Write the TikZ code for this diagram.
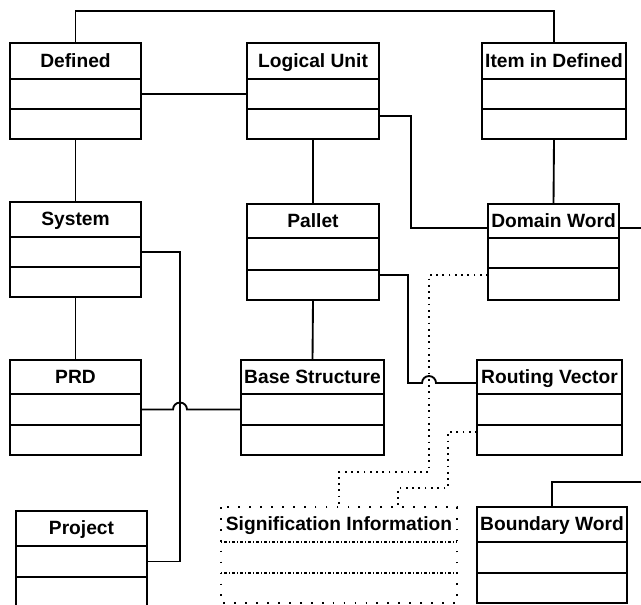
\documentclass[tikz,border=0pt]{standalone}
\usepackage{fontspec}
\setmainfont{Liberation Sans}
\usetikzlibrary{calc}

% class box: header with the name, then two empty compartments
% #1 extra style, #2 name, #3 x left, #4 x right, #5 top, #6 header bottom, #7 middle line, #8 bottom, #9 title
\newcommand\classbox[9][]{%
  \pgfmathsetmacro\cbw{(#4-#3)*0.75}%
  \pgfmathsetmacro\cbh{(#6-#5)*0.75}%
  \pgfmathsetmacro\cbha{(#7-#6)*0.75}%
  \pgfmathsetmacro\cbhb{(#8-#7)*0.75}%
  \node[classhead,#1,minimum width=\cbw pt,minimum height=\cbh pt] (#2) at ({(#3+#4)/2},{(#5+#6)/2}) {#9};
  \node[classpart,#1,minimum width=\cbw pt,minimum height=\cbha pt,anchor=north] (#2-a) at (#2.south) {};
  \node[classpart,#1,minimum width=\cbw pt,minimum height=\cbhb pt,anchor=north] (#2-b) at (#2-a.south) {};
}

\tikzset{
  boxline/.style={draw,line width=1.4pt,inner sep=0pt,outer sep=0pt},
  classhead/.style={boxline,font=\fontsize{14.4}{17}\selectfont\bfseries,text height=12pt,text depth=3pt},
  classpart/.style={boxline},
  conn/.style={line width=1.4pt},
  dotconn/.style={line width=1.3pt,dash pattern=on 1.3pt off 3.4pt},
  dotbox/.style={line width=1.3pt,dash pattern=on 1.3pt off 6.9pt},
  dotsep/.style={line width=0.9pt,dash pattern=on 1pt off 1.5pt on 2pt off 1.5pt}
}

\begin{document}
\begin{tikzpicture}[x=0.75pt,y=-0.75pt]
\useasboundingbox (0,0) rectangle (641,604);
\clip (0,0) rectangle (641,604);

% classes
\classbox{def}{10}{141}{43}{79}{109}{139}{Defined}
\classbox{lu}{247}{379}{43}{79}{109}{139}{Logical Unit}
\classbox{item}{482}{626}{43}{79}{109}{139}{Item in Defined}
\classbox{sys}{10}{141}{202}{237}{267}{297}{System}
\classbox{pal}{247}{379}{204}{238}{270}{300}{Pallet}
\classbox{dw}{488}{619}{204}{238}{268}{300}{Domain Word}
\classbox{prd}{10}{141}{360}{394}{425}{455}{PRD}
\classbox{bs}{241}{384}{360}{394}{425}{455}{Base Structure}
\classbox{rv}{477}{622}{360}{394}{425}{455}{Routing Vector}
\classbox{proj}{16}{147}{511}{546}{577}{607}{Project}
\classbox{bw}{477}{627}{507}{542}{573}{603}{Boundary Word}
\classbox[draw=none]{sig}{221}{457}{507}{542}{573}{603}{Signification Information}

% dotted outline of the note-like class
\draw[dotbox] (sig.north west) rectangle (sig-b.south east);
\draw[dotsep] (sig.south west) -- (sig.south east);
\draw[dotsep] (sig-a.south west) -- (sig-a.south east);

% helper points
\coordinate (topline) at (0,11);
\coordinate (dwout) at (641,228);
\coordinate (bwout) at (641,482);
\coordinate (jumpA) at (180,409.5);
\coordinate (jumpB) at (429,383);

% solid associations
\draw[conn] (def.north) -- (def.north |- topline) -| (item.north);
\draw[conn] (def-a.east) -- (lu-a.west);
\draw[conn] (lu-b.south) -- (pal.north);
\draw[conn] ([yshift=6pt]lu-b.east) -- ++(32,0) |- ([yshift=-5.25pt]dw.west);
\draw[conn] (item-b.south) -- (dw.north);
\draw[conn] ([yshift=-5.25pt]dw.east) -- (dwout);
\draw[conn] (def-b.south) -- (sys.north);
\draw[conn] (sys-b.south) -- (prd.north);
\draw[conn] (sys-a.east) -- ++(39,0) |- (proj-a.east);
\draw[conn] (prd-a.east) -- ($(jumpA)+(-7,0)$) arc[start angle=180,end angle=360,radius=7] -- (bs-a.west);
\draw[conn] (pal-b.south) -- (bs.north);
\draw[conn] ([yshift=7.5pt]pal-b.east) -- ++(29,0) |- ($(jumpB)+(-7,0)$) arc[start angle=180,end angle=360,radius=7] -- ([yshift=-4.5pt]rv.west);
\draw[conn] (bw.north) |- (bwout);

% dotted links to Signification Information
\draw[dotconn] ([yshift=6.75pt]dw-b.west) -- ++(-59,0) -- ++(0,197) -| (sig.north);
\draw[dotconn] ([yshift=6pt]rv-b.west) -- ++(-29,0) -- ++(0,56) -| ([xshift=44.25pt]sig.north);
\end{tikzpicture}
\end{document}
